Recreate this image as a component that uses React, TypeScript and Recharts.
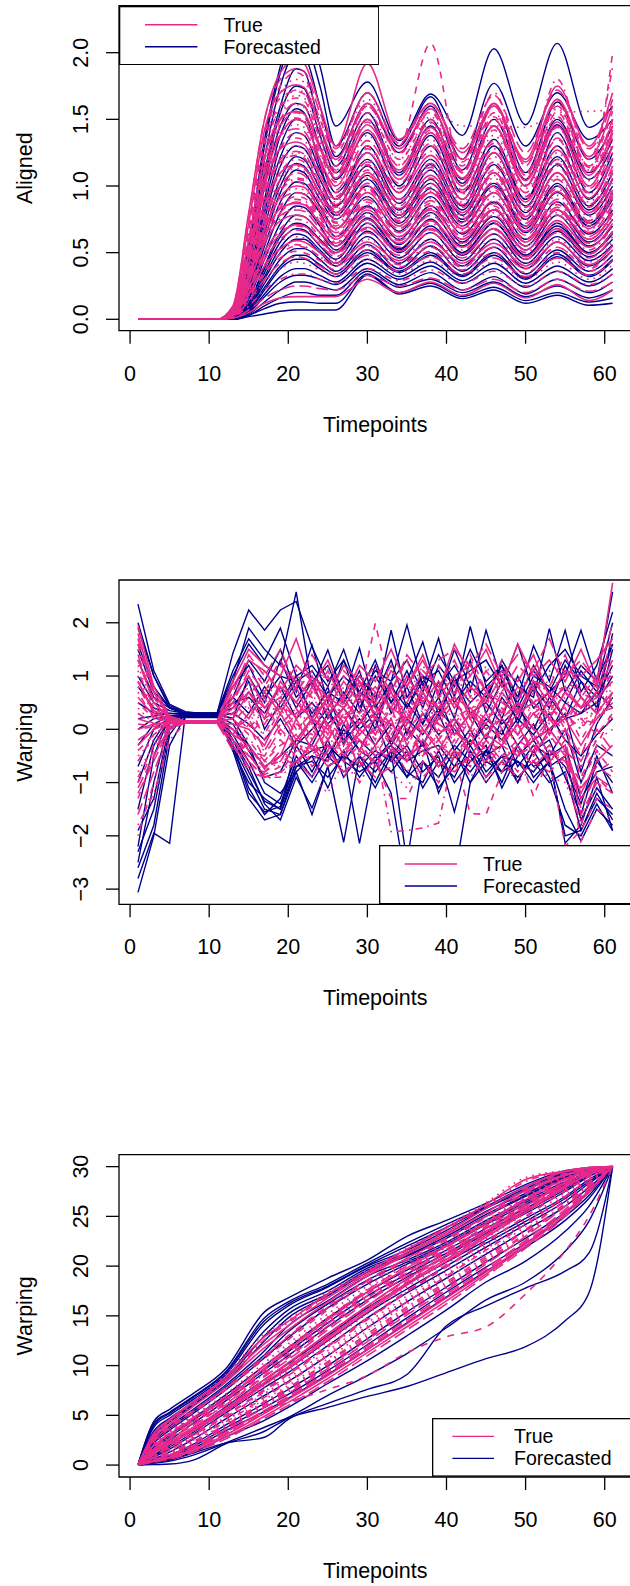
import React from 'react';
import { LineChart, Line, XAxis, YAxis, ReferenceArea, Legend } from 'recharts';

const PINK = '#E7298A';
const NAVY = '#00008B';
const FONT = '"Liberation Sans", Arial, Helvetica, sans-serif';
const FS = 21.5;
const FS_LEG = 19.5;
const LW_N = 1.4;
const LW_P = 1.6;

// ---------- tick labels ----------
const timeTicks = [0, 10, 20, 30, 40, 50, 60];
const alignedTicks = [0, 0.5, 1, 1.5, 2];
const warpTicks = [-3, -2, -1, 0, 1, 2];
const cumTicks = [0, 5, 10, 15, 20, 25, 30];

// ---------- panel 1 : Aligned ----------
const alignedTime = [1, 11, 13, 15, 17, 19, 21, 22, 24, 26, 30, 34, 38, 42, 46, 50, 54, 58, 61];
const alignedForecast = [
  [0,0,0.05,0.55,1.35,1.9,2.25,2.25,1.9,1.45,1.78,1.34,1.69,1.38,2.03,1.46,2.07,1.44,1.6],
  [0,0,0.05,0.5,1.3,1.85,2.12,2.1,1.75,1.3,1.7,1.3,1.67,1.2,1.77,1.3,1.7,1.35,1.5],
  [0,0,0.04,0.45,1.2,1.75,2.0,1.98,1.6,1.22,1.62,1.25,1.6,1.12,1.62,1.1,1.63,1.2,1.45],
  [0,0,0.03,0.4,1.1,1.6,1.88,1.86,1.45,1.15,1.55,1.1,1.5,1.05,1.5,1.05,1.5,1.1,1.35],
  [0,0,0.02,0.35,1.0,1.45,1.62,1.6,1.3,1.05,1.4,1.0,1.38,0.95,1.35,0.9,1.4,0.95,1.25],
  [0,0,0.02,0.3,0.85,1.3,1.5,1.48,1.2,0.95,1.25,0.9,1.2,0.85,1.25,0.85,1.22,0.85,1.1],
  [0,0,0.02,0.25,0.75,1.15,1.3,1.28,1.05,0.85,1.15,0.82,1.12,0.78,1.1,0.75,1.1,0.78,1.0],
  [0,0,0.01,0.2,0.6,0.95,1.12,1.1,0.9,0.75,1.0,0.72,0.98,0.7,0.95,0.65,0.95,0.7,0.9],
  [0,0,0.01,0.15,0.5,0.8,0.95,0.94,0.8,0.62,0.85,0.6,0.85,0.58,0.82,0.55,0.82,0.58,0.75],
  [0,0,0.01,0.1,0.35,0.58,0.68,0.67,0.55,0.45,0.72,0.5,0.7,0.48,0.68,0.45,0.66,0.47,0.6],
  [0,0,0.01,0.08,0.3,0.5,0.6,0.6,0.5,0.4,0.62,0.42,0.6,0.4,0.6,0.38,0.58,0.4,0.52],
  [0,0,0,0.06,0.22,0.38,0.45,0.45,0.38,0.32,0.5,0.35,0.48,0.32,0.48,0.3,0.47,0.32,0.44],
  [0,0,0,0.05,0.17,0.28,0.33,0.33,0.3,0.26,0.42,0.3,0.4,0.27,0.38,0.24,0.36,0.25,0.34],
  [0,0,0,0.04,0.13,0.22,0.28,0.28,0.25,0.22,0.38,0.26,0.35,0.22,0.32,0.19,0.3,0.2,0.28],
  [0,0,0,0.03,0.08,0.12,0.13,0.13,0.12,0.12,0.34,0.2,0.27,0.17,0.24,0.14,0.2,0.13,0.16],
  [0,0,0,0.02,0.04,0.06,0.07,0.07,0.07,0.07,0.33,0.19,0.25,0.155,0.22,0.12,0.18,0.105,0.12],
  [0,0,0,0.03,0.1,0.16,0.2,0.2,0.18,0.18,0.36,0.24,0.3,0.2,0.28,0.17,0.25,0.16,0.22],
  [0,0,0.01,0.12,0.4,0.65,0.78,0.77,0.65,0.52,0.75,0.52,0.75,0.5,0.72,0.48,0.72,0.5,0.66],
  [0,0,0.02,0.2,0.7,1.05,1.22,1.2,0.98,0.8,1.08,0.78,1.05,0.75,1.02,0.7,1.02,0.72,0.95],
  [0,0,0.02,0.3,0.9,1.38,1.58,1.55,1.15,0.9,1.3,0.95,1.3,0.9,1.3,0.9,1.3,0.9,1.2],
  [0,0,0.01,0.15,0.45,0.72,0.85,0.84,0.7,0.55,0.8,0.56,0.8,0.55,0.77,0.52,0.78,0.55,0.7],
  [0,0,0.01,0.08,0.27,0.45,0.53,0.53,0.45,0.36,0.56,0.38,0.55,0.36,0.54,0.34,0.52,0.36,0.48],
  [0,0,0.03,0.38,1.05,1.55,1.75,1.73,1.38,1.1,1.5,1.08,1.45,1.02,1.45,1.0,1.46,1.05,1.3],
  [0,0,0.02,0.28,0.8,1.22,1.4,1.38,1.12,0.9,1.2,0.87,1.16,0.82,1.16,0.8,1.16,0.82,1.05],
  [0,0,0.01,0.18,0.55,0.88,1.03,1.02,0.85,0.68,0.92,0.66,0.92,0.64,0.88,0.6,0.88,0.64,0.82],
  [0,0,0.01,0.12,0.38,0.62,0.72,0.71,0.6,0.5,0.76,0.53,0.74,0.5,0.72,0.48,0.7,0.5,0.64],
  [0,0,0,0.07,0.24,0.4,0.48,0.48,0.41,0.34,0.52,0.36,0.5,0.33,0.5,0.31,0.49,0.33,0.45],
  [0,0,0,0.05,0.19,0.32,0.38,0.38,0.33,0.28,0.45,0.32,0.43,0.29,0.42,0.27,0.4,0.28,0.38],
  [0,0,0.02,0.22,0.65,1.0,1.17,1.15,0.94,0.78,1.05,0.76,1.02,0.73,1.0,0.68,1.0,0.7,0.92],
  [0,0,0.01,0.1,0.32,0.54,0.64,0.63,0.52,0.42,0.66,0.46,0.65,0.44,0.64,0.42,0.62,0.44,0.56],
];
const alignedTrue = [
  [0,0,0.1,0.8,1.5,1.85,1.95,1.92,1.6,1.3,1.92,1.35,1.62,1.25,1.6,1.2,1.75,1.3,1.7],
  [0,0,0.08,0.7,1.4,1.75,1.85,1.82,1.5,1.25,1.7,1.3,2.07,1.1,1.55,1.05,1.65,1.1,2.0],
  [0,0,0.08,0.65,1.3,1.7,1.8,1.78,1.5,1.3,1.65,1.35,1.58,1.45,1.45,1.44,1.55,1.56,1.57],
  [0,0,0.07,0.6,1.25,1.6,1.72,1.7,1.4,1.15,1.6,1.25,1.55,1.15,1.7,1.15,1.8,1.2,1.9],
  [0,0,0.07,0.55,1.15,1.5,1.62,1.6,1.3,1.1,1.5,1.15,1.48,1.1,1.6,1.08,1.6,1.15,1.5],
  [0,0,0.06,0.5,1.05,1.38,1.5,1.48,1.2,1.0,1.42,1.05,1.4,1.0,1.45,1.0,1.45,1.0,1.4],
  [0,0,0.06,0.45,0.98,1.28,1.4,1.38,1.15,0.95,1.3,0.98,1.3,0.95,1.32,0.92,1.35,0.95,1.3],
  [0,0,0.05,0.42,0.9,1.2,1.3,1.28,1.05,0.88,1.2,0.9,1.2,0.88,1.22,0.85,1.25,0.88,1.2],
  [0,0,0.05,0.38,0.82,1.1,1.2,1.18,0.98,0.82,1.12,0.85,1.12,0.8,1.12,0.78,1.15,0.8,1.1],
  [0,0,0.05,0.35,0.75,1.0,1.1,1.08,0.9,0.75,1.02,0.78,1.02,0.75,1.03,0.72,1.05,0.74,1.0],
  [0,0,0.04,0.32,0.68,0.92,1.0,0.99,0.82,0.68,0.95,0.7,0.95,0.68,0.95,0.66,0.96,0.68,0.92],
  [0,0,0.04,0.3,0.62,0.84,0.92,0.91,0.76,0.63,0.88,0.65,0.87,0.62,0.87,0.6,0.88,0.62,0.85],
  [0,0,0.04,0.27,0.56,0.76,0.84,0.83,0.7,0.58,0.8,0.6,0.8,0.57,0.8,0.55,0.8,0.57,0.78],
  [0,0,0.03,0.24,0.5,0.68,0.75,0.74,0.62,0.52,0.72,0.54,0.72,0.52,0.72,0.5,0.72,0.52,0.7],
  [0,0,0.03,0.22,0.45,0.6,0.67,0.66,0.56,0.47,0.65,0.48,0.65,0.46,0.64,0.45,0.65,0.46,0.62],
  [0,0,0.03,0.19,0.4,0.53,0.59,0.58,0.5,0.42,0.58,0.44,0.58,0.42,0.57,0.4,0.58,0.41,0.55],
  [0,0,0.02,0.16,0.34,0.46,0.51,0.5,0.44,0.37,0.52,0.39,0.51,0.37,0.5,0.35,0.5,0.36,0.48],
  [0,0,0.02,0.13,0.28,0.38,0.43,0.42,0.37,0.32,0.45,0.34,0.44,0.32,0.43,0.3,0.43,0.3,0.41],
  [0,0,0.02,0.1,0.22,0.3,0.34,0.34,0.3,0.27,0.38,0.29,0.37,0.27,0.36,0.25,0.36,0.26,0.34],
  [0,0,0.01,0.07,0.16,0.22,0.25,0.25,0.23,0.22,0.33,0.25,0.31,0.22,0.3,0.2,0.3,0.21,0.28],
  [0,0,0.01,0.05,0.12,0.16,0.17,0.17,0.17,0.17,0.3,0.2,0.28,0.18,0.27,0.16,0.26,0.14,0.22],
  [0,0,0.06,0.5,1.1,1.45,1.55,1.52,1.25,1.08,1.48,1.1,1.42,1.05,1.5,1.05,1.52,1.1,1.45],
  [0,0,0.05,0.4,0.86,1.15,1.25,1.23,1.0,0.85,1.15,0.87,1.15,0.84,1.18,0.82,1.2,0.85,1.15],
  [0,0,0.04,0.34,0.72,0.96,1.05,1.04,0.86,0.72,0.98,0.74,0.98,0.72,0.99,0.7,1.0,0.72,0.96],
  [0,0,0.04,0.28,0.6,0.8,0.88,0.87,0.73,0.6,0.84,0.62,0.83,0.6,0.83,0.58,0.84,0.6,0.8],
  [0,0,0.03,0.23,0.48,0.64,0.71,0.7,0.59,0.5,0.69,0.51,0.68,0.49,0.68,0.47,0.68,0.49,0.66],
  [0,0,0.02,0.17,0.36,0.49,0.55,0.54,0.47,0.4,0.55,0.41,0.54,0.39,0.54,0.38,0.54,0.38,0.52],
  [0,0,0.07,0.58,1.2,1.55,1.68,1.66,1.35,1.12,1.55,1.2,1.52,1.12,1.55,1.1,1.58,1.15,1.5],
  [0,0,0.05,0.36,0.78,1.05,1.15,1.13,0.94,0.78,1.08,0.8,1.06,0.78,1.08,0.75,1.1,0.78,1.05],
  [0,0,0.02,0.14,0.3,0.42,0.47,0.46,0.4,0.34,0.48,0.36,0.47,0.34,0.46,0.32,0.46,0.33,0.44],
  [0,0,0.09,0.72,1.42,1.7,1.76,1.74,1.45,1.2,1.62,1.28,1.58,1.2,1.62,1.18,1.65,1.22,1.6],
  [0,0,0.08,0.66,1.33,1.6,1.66,1.64,1.36,1.12,1.55,1.2,1.5,1.12,1.52,1.1,1.55,1.14,1.5],
  [0,0,0.07,0.55,1.12,1.4,1.46,1.44,1.2,1.0,1.38,1.05,1.35,1.0,1.38,0.98,1.4,1.0,1.35],
  [0,0,0.06,0.5,1.02,1.3,1.36,1.34,1.1,0.92,1.28,0.98,1.26,0.94,1.28,0.9,1.3,0.94,1.25],
  [0,0,0.06,0.46,0.95,1.2,1.26,1.24,1.02,0.86,1.18,0.9,1.17,0.86,1.18,0.84,1.2,0.86,1.15],
  [0,0,0.05,0.42,0.86,1.1,1.16,1.14,0.95,0.8,1.1,0.83,1.08,0.8,1.1,0.77,1.1,0.8,1.06],
  [0,0,0.05,0.38,0.79,1.0,1.06,1.05,0.87,0.73,1.0,0.76,0.99,0.73,1.0,0.7,1.0,0.73,0.97],
  [0,0,0.04,0.35,0.72,0.93,0.98,0.97,0.8,0.67,0.92,0.7,0.91,0.67,0.92,0.65,0.93,0.67,0.9],
  [0,0,0.04,0.32,0.67,0.86,0.9,0.89,0.74,0.62,0.86,0.65,0.85,0.62,0.85,0.6,0.86,0.62,0.82],
  [0,0,0.04,0.29,0.6,0.78,0.82,0.81,0.68,0.57,0.78,0.59,0.78,0.57,0.78,0.55,0.78,0.57,0.75],
  [0,0,0.03,0.27,0.57,0.74,0.78,0.77,0.65,0.55,0.75,0.57,0.74,0.54,0.74,0.52,0.74,0.54,0.72],
  [0,0,0.03,0.24,0.51,0.66,0.7,0.69,0.58,0.49,0.68,0.51,0.67,0.49,0.67,0.47,0.67,0.49,0.65],
  [0,0,0.03,0.21,0.45,0.59,0.62,0.61,0.52,0.44,0.6,0.46,0.6,0.44,0.6,0.42,0.6,0.43,0.58],
  [0,0,0.02,0.19,0.41,0.53,0.56,0.55,0.47,0.4,0.55,0.42,0.55,0.4,0.54,0.38,0.54,0.39,0.52],
  [0,0,0.1,0.78,1.5,1.8,1.88,1.86,1.55,1.28,1.7,1.32,1.62,1.28,1.68,1.25,1.72,1.28,1.65],
  [0,0,0.08,0.6,1.22,1.5,1.56,1.54,1.28,1.06,1.46,1.12,1.44,1.06,1.45,1.04,1.48,1.08,1.42],
  [0,0,0.09,0.7,1.38,1.66,1.71,1.69,1.42,1.18,1.6,1.24,1.56,1.18,1.6,1.16,1.62,1.2,1.56],
  [0,0,0.08,0.63,1.3,1.56,1.61,1.59,1.33,1.1,1.5,1.16,1.47,1.1,1.5,1.08,1.52,1.12,1.47],
  [0,0,0.07,0.58,1.2,1.46,1.51,1.49,1.24,1.03,1.42,1.08,1.4,1.03,1.42,1.01,1.44,1.04,1.38],
  [0,0,0.07,0.53,1.1,1.38,1.43,1.41,1.17,0.97,1.34,1.02,1.32,0.97,1.34,0.95,1.36,0.98,1.3],
  [0,0,0.06,0.48,1.0,1.28,1.33,1.31,1.08,0.9,1.25,0.95,1.23,0.9,1.25,0.88,1.27,0.91,1.21],
  [0,0,0.06,0.44,0.92,1.18,1.23,1.21,1.0,0.84,1.16,0.88,1.14,0.84,1.15,0.81,1.17,0.84,1.12],
  [0,0,0.05,0.4,0.84,1.08,1.13,1.11,0.92,0.77,1.06,0.8,1.05,0.77,1.06,0.74,1.07,0.77,1.03],
  [0,0,0.05,0.37,0.76,0.98,1.03,1.01,0.84,0.7,0.97,0.73,0.96,0.7,0.97,0.68,0.98,0.7,0.94],
  [0,0,0.04,0.34,0.7,0.9,0.95,0.94,0.78,0.65,0.9,0.68,0.89,0.65,0.89,0.63,0.9,0.65,0.87],
  [0,0,0.04,0.31,0.64,0.83,0.87,0.86,0.72,0.6,0.82,0.62,0.82,0.6,0.82,0.58,0.82,0.6,0.79],
];

// ---------- panel 2 : Warping (derivative) ----------
const warpTime = [1,3,5,7,9,11,13,15,17,19,21,23,25,27,29,31,33,35,37,39,41,43,45,47,49,51,53,55,57,59,61];
const warpForecast = [
  [2.35,1.1,0.47,0.33,0.3,0.3,1.43,2.24,1.86,2.24,2.4,1.55,0.9,1.3,0.7,0.5,1.86,0.6,1.0,0.8,1.2,0.7,1.86,0.9,0.5,1.2,0.7,1.0,1.86,0.9,2.58],
  [2.0,1.0,0.45,0.3,0.3,0.3,0.9,1.9,1.5,1.2,2.58,0.8,1.49,0.6,1.52,0.4,0.9,1.96,0.8,1.71,0.6,1.93,0.8,1.1,0.6,1.57,0.9,1.86,0.7,1.2,2.2],
  [1.6,0.8,0.4,0.28,0.28,0.28,0.6,1.3,0.9,1.5,0.7,1.58,0.5,1.3,0.4,1.0,0.5,0.9,1.64,0.6,1.5,0.8,0.5,1.3,0.8,0.6,1.89,0.7,1.2,0.9,1.6],
  [-3.06,-2.0,-0.3,0.25,0.25,0.25,-0.3,-0.9,-1.5,-1.6,-0.8,-1.6,-0.7,-0.5,-2.14,-0.6,-0.3,-0.9,-0.2,-1.2,-0.5,-0.8,-0.4,-1.0,-0.3,-0.7,-0.5,-2.14,-1.8,-0.9,-1.9],
  [-2.8,-1.95,-2.14,0.3,0.3,0.3,-0.2,-0.7,-1.4,-1.7,-0.9,-1.48,-0.7,-2.12,-0.5,-0.8,-0.4,-2.5,-0.6,-0.9,-0.4,-1.0,-0.6,-0.8,-0.3,-0.9,-0.6,-2.0,-1.9,-1.2,-1.7],
  [-2.5,-1.0,0.2,0.3,0.3,0.3,-0.4,-1.0,-1.3,-1.5,-0.7,-0.6,-0.9,-0.5,-0.7,-0.4,-0.6,-0.3,-0.8,-0.5,-1.55,-0.4,-0.9,-0.5,-0.6,-0.8,-0.4,-0.7,-1.4,-0.5,-1.2],
  [-2.2,-0.5,0.25,0.25,0.25,0.25,-0.1,-0.6,-1.2,-1.4,-0.6,-0.4,-0.3,-0.6,-0.2,-0.5,-0.3,-0.6,-0.4,-0.3,-0.7,-0.2,-0.5,-0.3,-1.0,-0.4,-0.2,-0.9,-1.6,-0.6,-1.0],
  [-1.0,-0.2,0.25,0.28,0.28,0.28,0.2,-0.3,-1.0,-1.2,-0.8,-0.5,-0.6,0.1,-0.4,-0.6,-0.2,-0.5,-0.3,-0.7,-0.3,-0.6,-0.4,0.0,-0.7,-0.3,-0.5,-0.3,-1.3,-0.8,-0.7],
  [0.5,0.3,0.3,0.3,0.3,0.3,0.5,0.6,0.3,0.8,0.2,0.5,0.1,0.4,0.0,0.3,-0.2,0.5,0.1,0.6,-0.1,0.3,0.5,0.1,0.4,0.0,0.6,0.2,0.3,0.5,1.0],
  [1.0,0.5,0.35,0.3,0.3,0.3,0.8,1.2,0.6,1.0,0.4,0.9,0.2,0.7,0.3,1.2,0.3,0.8,0.1,0.9,0.2,1.3,0.3,0.9,0.1,0.8,0.4,1.2,0.6,0.3,1.5],
  [-0.7,0.0,0.22,0.22,0.22,0.22,0.0,-0.3,-0.7,-0.5,-0.2,-0.3,0.3,-0.1,0.2,-0.3,0.1,-0.2,0.3,-0.1,0.2,-0.3,0.1,-0.2,0.2,-0.1,0.3,-0.2,-0.5,-0.1,0.2],
  [0.0,0.2,0.25,0.25,0.25,0.25,0.3,0.1,-0.2,0.2,-0.3,0.0,0.4,-0.2,0.1,0.5,-0.3,0.2,-0.1,0.4,0.0,-0.3,0.2,-0.1,0.5,-0.2,0.0,0.3,-0.8,0.1,0.6],
  [1.9,1.0,0.4,0.3,0.3,0.3,1.0,1.6,1.2,1.0,0.9,1.1,0.6,1.0,0.7,1.3,0.5,1.1,0.4,1.2,0.8,1.5,0.9,1.2,0.6,1.1,0.7,1.3,0.9,0.4,1.8],
  [-1.5,-0.3,0.2,0.25,0.25,0.25,-0.2,-0.8,-1.35,-1.5,-0.3,-0.8,-0.2,-0.9,-0.5,-1.0,-0.4,-0.8,-1.0,-0.4,-1.0,-0.6,-0.3,-1.1,-0.5,-0.2,-0.7,-0.5,-1.7,-1.1,-1.5],
  [0.8,0.4,0.3,0.28,0.28,0.28,0.4,0.9,0.0,0.5,1.0,0.2,0.8,-0.3,0.6,0.0,0.9,-0.1,0.7,0.2,1.0,0.3,-0.2,0.6,0.2,0.9,-0.1,0.5,0.3,0.7,0.4],
  [-2.6,-1.8,-0.1,0.3,0.3,0.3,-0.3,-1.1,-1.6,-1.3,-0.5,-0.9,-0.3,-0.6,-0.8,-0.6,-1.2,-3.0,-3.0,-3.0,-2.8,-1.0,-0.4,-0.8,-0.6,-1.0,-0.6,-1.5,-2.1,-1.5,-1.8],
  [-1.9,-1.3,0.1,0.3,0.3,0.3,-0.3,-1.2,-1.55,-1.45,-0.6,-1.0,-0.5,-0.8,-0.6,-1.1,-0.5,-0.9,-0.6,-1.1,-0.7,-0.5,-1.0,-0.6,-0.9,-0.6,-1.0,-0.8,-1.9,-1.3,-1.6],
  [1.3,0.6,0.4,0.3,0.3,0.3,1.1,1.7,1.3,1.9,1.0,1.2,0.8,1.5,0.6,1.1,0.9,1.3,0.7,1.4,0.9,1.1,1.3,0.8,1.6,0.7,1.2,1.5,1.0,0.8,2.0],
  [-0.3,0.1,0.25,0.25,0.25,0.25,0.1,-0.4,-0.9,-0.8,-0.2,0.2,-0.5,0.0,-0.4,0.2,-0.6,0.0,-0.3,0.3,-0.4,0.0,-0.6,0.2,-0.3,0.1,-0.5,0.0,-1.0,-0.3,-0.5],
  [0.2,0.25,0.3,0.28,0.28,0.28,0.6,0.3,0.8,0.4,0.9,0.3,0.7,0.5,1.1,0.2,0.8,0.4,1.0,0.3,0.9,0.5,0.8,0.2,1.0,0.4,0.7,0.2,0.9,0.6,1.2],
  [-2.3,-1.5,0.0,0.28,0.28,0.28,-0.4,-1.3,-1.7,-1.6,-0.7,-0.5,-1.1,-0.4,-0.9,-0.5,-0.8,-0.4,-1.1,-0.6,-0.9,-0.3,-0.8,-0.5,-1.0,-0.4,-0.9,-1.8,-2.0,-1.4,-1.9],
  [1.5,0.7,0.42,0.3,0.3,0.3,0.2,1.0,0.5,1.3,0.6,0.9,1.2,0.5,1.0,0.6,1.3,0.4,0.9,1.1,0.5,0.9,0.6,1.2,0.4,1.0,0.8,0.5,1.1,0.7,1.6],
];
const warpTrue = [
  [1.95,0.8,0.25,0.15,0.15,0.15,0.9,1.5,1.2,1.0,1.7,0.8,1.3,0.6,1.2,0.9,1.5,0.8,1.3,0.7,1.6,1.0,1.5,0.8,1.6,1.0,1.3,0.9,1.5,0.8,2.75],
  [1.6,0.6,0.2,0.15,0.15,0.15,0.6,1.2,0.8,1.3,0.7,1.1,0.5,1.0,0.6,1.99,0.7,1.3,0.5,1.2,0.6,1.4,0.7,1.3,0.5,1.2,0.6,1.1,0.9,0.6,1.8],
  [1.2,0.4,0.2,0.15,0.15,0.15,0.3,0.9,0.4,0.7,0.3,0.9,0.2,0.8,0.4,0.6,0.2,0.9,0.3,0.7,0.1,0.8,0.3,0.9,0.2,0.7,0.4,0.8,0.3,0.5,1.2],
  [0.7,0.2,0.15,0.12,0.12,0.12,0.1,0.5,-0.2,0.4,-0.1,0.5,-0.2,0.3,0.0,0.5,-0.3,0.4,-0.1,0.3,0.1,0.5,-0.2,0.4,0.0,0.3,-0.1,0.5,0.2,0.1,0.7],
  [0.2,0.1,0.12,0.12,0.12,0.12,0.0,0.2,-0.4,0.1,0.4,-0.2,0.3,-0.3,0.2,-0.1,0.4,-0.3,0.3,-0.2,0.2,-0.1,0.3,-0.3,0.4,-0.2,0.2,0.0,-0.5,0.3,0.4],
  [-0.3,0.0,0.12,0.12,0.12,0.12,-0.1,-0.3,-0.7,-0.5,0.2,-0.4,0.1,-0.5,0.0,-0.3,0.2,-0.6,0.0,-0.4,0.1,-0.5,-0.1,-0.3,0.1,-0.5,0.0,-0.4,-1.2,-0.6,-0.3],
  [-1.0,-0.4,0.1,0.12,0.12,0.12,-0.2,-0.6,-0.9,-0.8,-0.4,-0.6,-0.3,-0.9,-0.4,-0.6,-1.3,-1.3,-0.6,-1.0,-0.5,-1.58,-1.6,-0.8,-0.4,-1.26,-0.5,-2.2,-1.9,-1.3,-1.5],
  [-1.5,-1.39,0.0,0.12,0.12,0.12,-0.2,-0.7,-0.95,-0.83,-0.5,-0.9,-1.2,-0.6,-1.0,-0.5,-0.8,-1.1,-0.6,-0.9,-0.7,-0.5,-1.0,-0.6,-1.0,-0.7,-0.9,-1.0,-1.7,-1.1,-1.0],
  [-2.0,-1.0,0.05,0.12,0.12,0.12,0.0,-0.5,-0.8,-0.6,-0.2,-0.7,-0.4,-0.2,-0.6,-0.3,-1.92,-1.9,-1.85,-1.76,-0.4,-0.6,-0.3,-0.7,-0.4,-0.6,-0.3,-0.8,-1.8,-0.9,-1.2],
  [1.7,0.7,0.2,0.15,0.15,0.15,0.7,1.4,1.0,1.5,0.8,1.4,0.9,1.1,0.8,1.2,0.7,1.4,1.0,1.3,1.5,1.2,1.6,1.0,1.4,1.1,1.7,1.0,1.3,0.9,2.0],
  [0.9,0.3,0.18,0.15,0.15,0.15,0.4,0.7,0.2,0.9,0.5,0.2,0.6,0.1,0.7,0.3,0.8,0.2,0.6,0.4,0.9,0.2,0.7,0.3,0.8,0.5,0.2,0.7,0.4,0.6,0.9],
  [-0.6,-0.1,0.12,0.12,0.12,0.12,-0.1,-0.2,-0.6,-0.3,-0.1,0.1,-0.4,0.2,-0.3,0.0,-0.4,0.1,-0.5,0.0,-0.3,0.2,-0.4,0.0,-0.2,0.1,-0.5,0.0,-0.9,-0.3,0.3],
  [0.4,0.1,0.15,0.12,0.12,0.12,0.2,0.4,0.1,0.6,0.0,0.3,0.5,0.0,0.3,-0.1,0.5,0.1,0.4,-0.2,0.3,0.6,0.0,0.4,0.2,0.6,0.1,0.3,0.0,0.8,1.1],
  [-1.8,-1.2,-0.2,0.12,0.12,0.12,-0.3,-0.8,-0.9,-0.9,-0.6,-0.3,-0.7,-0.4,-1.0,-0.5,-0.3,-0.8,-0.4,-0.7,-0.3,-0.9,-0.5,-0.4,-0.8,-0.3,-0.6,-0.4,-2.1,-1.5,-1.7],
  [1.4,0.5,0.2,0.15,0.15,0.15,0.5,1.1,0.7,1.2,0.9,0.6,1.1,0.5,1.0,0.7,1.2,0.5,1.1,0.8,1.3,0.6,1.1,0.7,1.2,0.9,0.8,1.4,0.6,1.0,1.4],
  [0.0,0.1,0.12,0.12,0.12,0.12,0.1,0.0,-0.3,0.3,-0.2,0.2,0.0,0.4,-0.1,0.2,0.1,-0.2,0.2,0.1,-0.1,0.3,0.0,0.2,-0.1,0.3,0.0,0.2,-0.3,0.2,0.5],
  [-1.3,-0.5,0.1,0.12,0.12,0.12,-0.2,-0.5,-0.85,-0.7,-0.3,-0.5,-0.2,-0.6,-0.3,-0.7,-0.2,-0.5,-0.3,-0.6,-0.2,-0.4,-0.6,-0.2,-0.5,-0.3,-0.6,-0.2,-1.5,-0.8,-0.6],
  [1.0,0.35,0.18,0.15,0.15,0.15,0.3,0.9,0.5,0.3,1.1,0.4,0.8,0.2,0.9,0.4,0.7,0.3,1.0,0.5,0.8,0.3,0.9,0.5,0.7,0.3,1.0,0.4,0.8,0.6,1.6],
  [0.5,0.2,0.15,0.15,0.15,0.15,0.3,0.6,0.1,0.5,0.2,0.7,0.0,0.5,0.3,0.6,0.0,0.4,0.6,0.1,0.5,0.2,0.6,0.0,0.5,0.3,0.5,0.1,0.6,0.3,0.8],
  [-0.2,0.0,0.12,0.12,0.12,0.12,0.0,-0.4,-0.5,0.0,-0.3,0.2,-0.2,0.3,-0.4,0.1,-0.2,0.2,-0.3,0.2,0.0,-0.3,0.3,-0.2,0.1,-0.4,0.2,-0.2,-0.6,0.0,-0.4],
  [1.3,0.5,0.2,0.15,0.15,0.15,0.6,1.0,0.4,0.8,0.5,1.0,0.4,0.9,0.5,0.8,0.4,1.0,0.5,0.9,0.4,0.8,0.5,1.0,0.3,0.9,0.5,0.8,0.4,0.7,1.3],
  [-0.9,-0.3,0.1,0.12,0.12,0.12,-0.1,-0.5,-0.7,-0.6,-0.1,-0.5,0.0,-0.4,-0.1,-0.5,0.0,-0.4,-0.2,-0.5,0.0,-0.4,-0.1,-0.5,-0.2,-0.4,-0.1,-0.5,-1.0,-0.4,-0.8],
  [0.3,0.1,0.15,0.12,0.12,0.12,0.4,0.8,0.3,0.2,0.6,0.0,0.5,0.2,0.6,0.1,0.3,0.7,0.0,0.5,0.3,0.0,0.6,0.2,0.5,0.0,0.4,0.6,0.1,0.4,0.9],
  [0.8,0.3,0.18,0.15,0.15,0.15,0.0,0.3,0.6,-0.1,0.3,0.4,-0.1,0.6,0.2,-0.2,0.6,0.0,0.3,0.5,-0.1,0.4,0.2,0.6,-0.1,0.4,0.3,-0.1,0.5,0.2,0.6],
  [-1.6,-0.8,0.0,0.12,0.12,0.12,-0.3,-0.7,-0.8,-0.5,-0.7,-0.2,-0.6,-0.1,-0.7,-0.3,-0.6,0.0,-0.5,-0.2,-0.6,-0.1,-0.7,-0.3,-0.5,-0.1,-0.6,-0.3,-1.6,-1.0,-1.2],
  [1.8,0.7,0.22,0.15,0.15,0.15,0.8,1.3,1.1,0.7,1.2,0.9,0.6,1.2,0.9,0.5,1.1,0.8,1.4,0.6,1.0,1.2,0.7,1.1,0.9,1.4,0.6,1.1,1.0,1.3,1.7],
  [0.1,0.05,0.12,0.12,0.12,0.12,0.2,-0.1,0.2,0.4,0.1,-0.1,0.5,0.1,-0.2,0.4,0.1,0.3,-0.1,0.3,0.5,0.0,0.2,0.4,-0.1,0.2,0.5,0.0,0.2,-0.1,0.3],
  [-0.5,-0.2,0.1,0.12,0.12,0.12,0.1,-0.2,-0.4,-0.2,0.1,-0.1,-0.3,0.0,-0.1,-0.4,0.0,-0.1,0.1,-0.4,-0.1,0.0,-0.3,0.1,-0.3,0.0,-0.2,-0.1,-0.4,-0.2,0.0],
  [1.1,0.4,0.2,0.15,0.15,0.15,0.5,0.7,0.9,0.5,0.9,0.6,1.0,0.4,0.7,1.0,0.6,0.7,0.9,0.3,0.7,1.0,0.4,0.8,0.6,1.1,0.3,0.9,0.7,0.5,1.1],
  [-1.2,-0.6,0.05,0.12,0.12,0.12,-0.2,-0.6,-0.9,-0.8,-0.6,-0.9,-0.4,-0.8,-0.6,-0.9,-0.7,-0.4,-0.9,-0.6,-0.8,-0.5,-0.9,-0.6,-0.9,-0.6,-0.8,-0.5,-1.3,-0.9,-1.1],
  [0.6,0.25,0.15,0.15,0.15,0.15,0.5,0.2,0.7,0.3,0.8,0.1,0.6,0.4,0.9,0.2,0.7,0.1,0.8,0.4,0.6,0.0,0.7,0.5,0.3,0.8,0.2,0.7,0.4,0.9,1.0],
  [-0.4,-0.1,0.12,0.12,0.12,0.12,-0.3,0.1,-0.6,-0.2,-0.5,0.0,-0.4,-0.1,-0.5,0.1,-0.3,-0.5,0.0,-0.3,-0.5,-0.1,-0.4,0.0,-0.5,-0.2,0.0,-0.4,-0.7,-0.2,-0.5],
  [1.5,0.6,0.2,0.15,0.15,0.15,0.9,0.5,1.1,0.6,1.0,0.7,1.2,0.6,1.1,0.5,0.9,0.6,1.2,0.7,1.0,0.5,1.2,0.6,1.0,0.7,1.1,0.6,1.2,0.8,1.5],
  [0.0,0.05,0.12,0.12,0.12,0.12,-0.1,0.3,-0.1,0.5,0.0,0.3,-0.2,0.2,0.4,-0.1,0.2,0.5,0.0,0.4,-0.2,0.3,0.1,-0.2,0.3,0.5,-0.1,0.3,0.0,0.4,0.2],
  [-1.1,-0.5,0.05,0.12,0.12,0.12,-0.4,-0.3,-0.75,-0.4,-0.6,-0.3,-0.7,-0.5,-0.2,-0.7,-0.4,-0.6,-0.2,-0.7,-0.4,-0.7,-0.2,-0.6,-0.3,-0.7,-0.4,-0.6,-1.1,-0.7,-0.9],
  [0.9,0.35,0.18,0.15,0.15,0.15,0.2,0.7,0.4,0.6,0.2,0.8,0.3,0.6,0.1,0.7,0.4,0.2,0.7,0.2,0.6,0.4,0.1,0.7,0.3,0.5,0.7,0.2,0.6,0.3,0.7],
  [0.3,0.1,0.14,0.12,0.12,0.12,0.3,0.0,0.4,0.0,0.3,0.5,0.1,-0.1,0.4,0.2,-0.1,0.3,0.5,-0.1,0.2,0.4,-0.1,0.2,0.5,0.0,0.3,0.4,-0.2,0.3,0.6],
  [-0.8,-0.3,0.08,0.12,0.12,0.12,0.0,-0.4,-0.6,-0.7,-0.2,-0.6,-0.1,-0.5,-0.2,-0.4,-0.6,-0.1,-0.4,-0.1,-0.6,-0.2,-0.5,-0.7,-0.1,-0.5,-0.3,-0.7,-0.9,-0.5,-0.3],
];

// ---------- panel 3 : Warping (cumulative) ----------
const cumTime = [1, 3, 5, 8, 12, 17, 20, 25, 30, 35, 40, 45, 50, 55, 58, 61];
const cumForecast = [
  [0,4.4,5.6,7.2,9.6,15.4,16.8,18.8,20.6,23.0,24.6,26.3,28.2,29.6,29.9,30],
  [0,4.2,5.3,6.9,9.3,14.8,16.4,18.2,20.3,22.3,24.2,26.0,28.0,29.5,29.8,30],
  [0,3.8,5.0,6.6,9.0,14.2,16.0,17.9,20.0,21.6,23.6,25.8,27.6,29.3,29.7,30],
  [0,3.4,4.7,6.3,8.7,13.5,15.6,17.5,19.8,21.3,23.2,25.5,27.3,29.0,29.6,30],
  [0,3.0,4.3,6.0,8.3,12.5,14.8,17.0,19.4,21.0,22.8,25.0,27.0,28.8,29.5,30],
  [0,2.6,3.9,5.6,8.0,11.5,14.0,16.5,19.0,20.6,22.4,24.6,26.6,28.5,29.4,30],
  [0,2.2,3.5,5.2,7.5,10.8,12.8,15.8,18.2,20.2,22.0,24.2,26.2,28.2,29.3,30],
  [0,1.8,3.0,4.7,7.0,10.0,11.8,14.8,17.4,19.6,21.6,23.8,25.8,27.9,29.2,30],
  [0,1.4,2.5,4.2,6.4,9.3,11.0,13.9,16.6,18.9,21.0,23.3,25.3,27.5,29.0,30],
  [0,1.0,2.0,3.6,5.8,8.6,10.2,13.0,15.8,18.2,20.4,22.6,24.8,27.0,28.7,30],
  [0,0.8,1.6,3.1,5.2,7.8,9.3,12.0,14.8,17.3,19.6,21.9,24.2,26.5,28.3,30],
  [0,0.6,1.3,2.6,4.6,7.0,8.4,11.0,13.8,16.4,18.8,21.2,23.6,26.0,27.9,30],
  [0,0.5,1.0,2.1,4.0,6.2,7.6,10.0,12.7,15.4,17.9,20.4,22.8,25.4,27.4,30],
  [0,0.4,0.8,1.7,3.4,5.4,6.7,9.1,11.6,14.3,16.9,19.5,21.9,24.6,26.8,30],
  [0,0.3,0.6,1.3,2.8,4.5,5.8,8.2,10.5,13.0,15.6,18.4,20.5,23.5,26.0,30],
  [0,0.2,0.4,1.0,2.2,3.8,4.8,7.0,9.0,11.2,13.8,16.6,18.4,21.5,24.5,30],
  [0,0.2,0.5,1.2,2.2,2.8,4.6,6.2,7.6,9.1,14.0,16.0,17.8,19.5,21.3,30],
  [0,0.05,0.1,0.5,2.1,3.4,4.7,5.8,6.9,7.9,9.3,10.7,11.9,14.5,17.3,30],
  [0,4.0,5.2,6.8,9.2,14.5,16.2,18.0,20.1,22.0,23.9,25.9,27.8,29.4,29.8,30],
  [0,3.2,4.5,6.1,8.5,13.0,15.2,17.2,19.6,21.1,23.0,25.2,27.1,28.9,29.5,30],
  [0,2.4,3.7,5.4,7.8,11.1,13.4,16.2,18.6,20.4,22.2,24.4,26.4,28.3,29.3,30],
  [0,1.6,2.8,4.5,6.7,9.6,11.4,14.3,17.0,19.2,21.3,23.5,25.5,27.7,29.1,30],
  [0,0.9,1.8,3.3,5.5,8.2,9.7,12.5,15.3,17.7,20.0,22.3,24.5,26.8,28.5,30],
  [0,0.45,0.9,1.9,3.7,5.8,7.1,9.5,12.1,14.8,17.4,19.9,22.3,25.0,27.1,30],
];
const cumTrue = [
  [0,3.2,4.6,6.4,8.6,12.2,14.0,16.8,19.2,21.4,23.4,25.8,28.0,29.5,29.9,30],
  [0,2.6,3.9,5.5,7.7,11.0,13.0,16.0,18.6,20.8,22.8,25.0,27.8,29.3,29.8,30],
  [0,2.2,3.4,5.0,7.1,10.3,12.2,15.2,18.0,20.3,22.4,24.6,27.0,29.0,29.7,30],
  [0,1.9,3.0,4.5,6.5,9.6,11.4,14.4,17.2,19.6,21.9,24.2,26.6,28.7,29.6,30],
  [0,1.6,2.6,4.0,6.0,8.9,10.6,13.6,16.4,19.0,21.3,23.7,26.1,28.4,29.4,30],
  [0,1.3,2.2,3.6,5.5,8.3,9.9,12.8,15.6,18.3,20.7,23.1,25.6,28.0,29.2,30],
  [0,1.1,1.9,3.2,5.0,7.6,9.2,12.0,14.8,17.5,20.0,22.5,25.0,27.6,29.0,30],
  [0,0.9,1.6,2.8,4.5,7.0,8.5,11.2,14.0,16.7,19.2,21.8,24.4,27.1,28.7,30],
  [0,0.7,1.3,2.4,4.0,6.4,7.8,10.4,13.2,15.9,18.4,21.0,23.7,26.6,28.4,30],
  [0,0.55,1.05,2.0,3.5,5.8,7.2,9.7,12.4,15.1,17.6,20.2,23.0,26.0,28.0,30],
  [0,0.4,0.8,1.6,3.0,5.2,6.6,9.0,11.6,14.2,16.8,19.4,22.2,25.4,27.6,30],
  [0,0.5,1.0,1.9,3.3,5.4,6.3,7.6,9.0,11.3,12.9,13.9,17.2,21.5,25.0,30],
  [0,3.0,4.4,6.3,9.0,13.2,14.6,17.4,19.6,21.8,24.0,26.4,28.9,29.6,29.9,30],
  [0,1.0,1.8,3.0,4.8,7.4,9.0,11.8,14.6,17.4,20.2,23.0,25.8,28.2,29.3,30],
  [0,0.3,0.6,1.3,2.6,4.7,6.0,8.4,11.0,13.6,16.2,19.0,21.8,25.0,27.4,30],
  [0,1.5,2.4,3.8,5.7,8.6,10.3,13.2,16.0,18.7,21.1,23.5,26.0,28.3,29.4,30],
  [0,0.8,1.5,2.7,4.3,6.8,8.3,11.0,13.8,16.4,19.0,21.6,24.2,27.0,28.7,30],
  [0,1.2,2.0,3.4,5.2,7.9,9.5,12.4,15.2,17.9,20.4,22.8,25.3,27.8,29.1,30],
  [0,0.6,1.2,2.2,3.8,6.1,7.5,10.1,12.8,15.5,18.0,20.6,23.3,26.3,28.2,30],
  [0,2.0,3.2,4.8,6.8,10.0,11.8,14.8,17.6,20.0,22.1,24.4,26.8,28.8,29.6,30],
  [0,2.8,4.1,5.9,8.3,11.8,13.6,16.4,19.0,21.2,23.2,25.4,27.6,29.2,29.8,30],
  [0,2.4,3.7,5.3,7.5,10.7,12.6,15.6,18.3,20.6,22.6,24.9,27.3,29.1,29.7,30],
  [0,2.1,3.3,4.9,6.9,10.0,11.9,14.9,17.7,20.1,22.2,24.5,26.9,28.9,29.7,30],
  [0,1.75,2.8,4.25,6.25,9.2,11.0,14.0,16.8,19.3,21.6,23.9,26.3,28.5,29.5,30],
  [0,1.45,2.3,3.7,5.6,8.5,10.2,13.2,16.0,18.6,21.0,23.4,25.8,28.1,29.3,30],
  [0,1.2,2.1,3.45,5.35,8.1,9.7,12.6,15.4,18.1,20.5,22.9,25.4,27.9,29.2,30],
  [0,1.0,1.75,3.0,4.9,7.5,9.1,11.9,14.7,17.4,19.9,22.4,25.0,27.6,29.0,30],
  [0,0.85,1.55,2.75,4.4,6.9,8.4,11.1,13.9,16.6,19.1,21.7,24.4,27.1,28.8,30],
  [0,0.65,1.25,2.3,3.9,6.3,7.7,10.3,13.0,15.7,18.2,20.8,23.6,26.6,28.4,30],
  [0,0.5,0.95,1.8,3.25,5.5,6.9,9.4,12.0,14.6,17.2,19.8,22.6,25.7,27.8,30],
  [0,0.35,0.7,1.45,2.8,4.9,6.3,8.7,11.3,13.9,16.5,19.2,22.0,25.2,27.5,30],
  [0,1.65,2.7,4.1,6.1,9.0,10.8,13.8,16.6,19.2,21.5,23.8,26.2,28.4,29.5,30],
  [0,0.75,1.4,2.5,4.1,6.6,8.0,10.7,13.5,16.2,18.7,21.3,24.0,26.9,28.6,30],
  [0,2.9,4.3,6.1,8.5,12.6,14.3,17.0,19.3,21.6,23.7,26.0,28.5,29.5,29.9,30],
  [0,2.5,3.8,5.45,7.65,10.9,12.9,15.85,18.5,20.8,22.8,25.0,27.4,29.1,29.75,30],
  [0,1.95,3.1,4.65,6.6,9.75,11.6,14.6,17.4,19.8,22.0,24.3,26.7,28.75,29.6,30],
  [0,1.35,2.25,3.6,5.45,8.3,10.0,12.9,15.7,18.4,20.8,23.2,25.7,28.05,29.25,30],
  [0,0.95,1.7,2.9,4.65,7.2,8.75,11.5,14.3,17.0,19.5,22.1,24.7,27.4,28.9,30],
  [0,0.6,1.15,2.1,3.6,5.95,7.35,9.9,12.6,15.3,17.8,20.4,23.2,26.2,28.1,30],
  [0,0.45,0.85,1.7,3.1,5.3,6.75,9.2,11.8,14.4,17.0,19.6,22.4,25.5,27.7,30],
  [0,3.1,4.5,6.35,8.8,12.9,14.45,17.2,19.45,21.7,23.85,26.2,28.7,29.55,29.9,30],
  [0,1.8,2.9,4.35,6.4,9.4,11.2,14.2,17.0,19.4,21.7,24.0,26.45,28.6,29.55,30],
];

// ---------- layout ----------
const CHART_W = 640;
const PLOT_LEFT = 119;
const PLOT_RIGHT = 631.6;
const X_DOMAIN: [number, number] = [-1.4, 63.4];
const LTY = [undefined, '7 7', '1.7 5', '1.7 5 7 5', '12 5'];

type LegendSpec = { left: number; top: number; width: number; height: number; x1: number; x2: number; tx: number; y1: number; y2: number };
type PanelSpec = {
  top: number; height: number; plotTop: number; plotBottom: number;
  yDomain: [number, number]; yTicks: number[]; yFmt: (v: number) => string; yTitle: string;
  time: number[]; forecast: number[][]; truth: number[][]; curve: 'monotone' | 'linear';
  legend: LegendSpec;
};

const toRows = (time: number[], vals: number[]) => time.map((t, i) => ({ t, v: vals[i] }));

const LegendBox = ({ lg }: { lg: LegendSpec }) => (
  <svg width={lg.width} height={lg.height} style={{ display: 'block' }}>
    <rect x={0.65} y={0.65} width={lg.width - 1.3} height={lg.height - 1.3} fill="#fff" stroke="#000" strokeWidth={1.3} />
    <line x1={lg.x1} x2={lg.x2} y1={lg.y1} y2={lg.y1} stroke={PINK} strokeWidth={LW_N} />
    <line x1={lg.x1} x2={lg.x2} y1={lg.y2} y2={lg.y2} stroke={NAVY} strokeWidth={LW_N} />
    <text x={lg.tx} y={lg.y1 + 7} fontSize={FS_LEG} fontFamily={FONT} fill="#000">True</text>
    <text x={lg.tx} y={lg.y2 + 7} fontSize={FS_LEG} fontFamily={FONT} fill="#000">Forecasted</text>
  </svg>
);

const Panel = ({ s }: { s: PanelSpec }) => {
  const xTick = (p: any) => (
    <text x={p.x} y={s.plotBottom + 50} textAnchor="middle" fontSize={FS} fontFamily={FONT} fill="#000">
      {p.payload.value}
    </text>
  );
  const yTick = (p: any) => (
    <text x={88} y={p.y} transform={`rotate(-90 88 ${p.y})`} textAnchor="middle" fontSize={FS} fontFamily={FONT} fill="#000">
      {s.yFmt(p.payload.value)}
    </text>
  );
  const cy = (s.plotTop + s.plotBottom) / 2;
  return (
    <div style={{ position: 'absolute', left: 0, top: s.top, width: CHART_W, height: s.height }}>
      <LineChart width={CHART_W} height={s.height} margin={{ top: s.plotTop, right: CHART_W - PLOT_RIGHT, bottom: 0, left: 0 }}>
        <XAxis
          type="number" dataKey="t" domain={X_DOMAIN} allowDataOverflow ticks={timeTicks} interval={0}
          height={s.height - s.plotBottom} tickSize={13} axisLine={false}
          tickLine={{ stroke: '#000', strokeWidth: 1.3 }} tick={xTick}
          label={() => (
            <text x={(PLOT_LEFT + PLOT_RIGHT) / 2} y={s.plotBottom + 101} textAnchor="middle" fontSize={FS} fontFamily={FONT} fill="#000">Timepoints</text>
          )}
        />
        <YAxis
          type="number" domain={s.yDomain} allowDataOverflow ticks={s.yTicks} interval={0}
          width={PLOT_LEFT} tickSize={13} axisLine={false}
          tickLine={{ stroke: '#000', strokeWidth: 1.3 }} tick={yTick}
          label={() => (
            <text x={32.5} y={cy} transform={`rotate(-90 32.5 ${cy})`} textAnchor="middle" fontSize={FS} fontFamily={FONT} fill="#000">{s.yTitle}</text>
          )}
        />
        {s.forecast.map((vals, i) => (
          <Line key={'f' + i} data={toRows(s.time, vals)} dataKey="v" type={s.curve} stroke={NAVY} strokeWidth={LW_N}
            dot={false} activeDot={false} isAnimationActive={false} />
        ))}
        {s.truth.map((vals, i) => (
          <Line key={'p' + i} data={toRows(s.time, vals)} dataKey="v" type={s.curve} stroke={PINK} strokeWidth={LW_P}
            strokeDasharray={LTY[i % LTY.length]} dot={false} activeDot={false} isAnimationActive={false} />
        ))}
        <ReferenceArea x1={X_DOMAIN[0]} x2={X_DOMAIN[1]} y1={s.yDomain[0]} y2={s.yDomain[1]} fill="none" fillOpacity={0}
          stroke="#000" strokeWidth={1.3} ifOverflow="visible" />
        <Legend layout="vertical" align="center" verticalAlign="middle"
          wrapperStyle={{ left: s.legend.left, top: s.legend.top, width: s.legend.width, height: s.legend.height }}
          content={() => <LegendBox lg={s.legend} />} />
      </LineChart>
    </div>
  );
};

const one = (v: number) => v.toFixed(1);
const minus = (v: number) => (v < 0 ? '\u2212' + Math.abs(v) : String(v));

const panels: PanelSpec[] = [
  {
    top: 0, height: 440, plotTop: 5.7, plotBottom: 330.7, yDomain: [-0.0855, 2.3525], yTicks: alignedTicks, yFmt: one,
    yTitle: 'Aligned', time: alignedTime, forecast: alignedForecast, truth: alignedTrue, curve: 'monotone',
    legend: { left: 118.7, top: 5.7, width: 260.4, height: 59.3, x1: 26, x2: 78.4, tx: 104.4, y1: 18.8, y2: 40.8 },
  },
  {
    top: 570, height: 440, plotTop: 10, plotBottom: 334.3, yDomain: [-3.285, 2.803], yTicks: warpTicks, yFmt: minus,
    yTitle: 'Warping', time: warpTime, forecast: warpForecast, truth: warpTrue, curve: 'linear',
    legend: { left: 379.3, top: 275, width: 260, height: 59.3, x1: 25.7, x2: 78, tx: 104, y1: 19, y2: 41 },
  },
  {
    top: 1145, height: 441, plotTop: 9.7, plotBottom: 332, yDomain: [-1.2, 31.2], yTicks: cumTicks, yFmt: minus,
    yTitle: 'Warping', time: cumTime, forecast: cumForecast, truth: cumTrue, curve: 'monotone',
    legend: { left: 432.3, top: 273.3, width: 210, height: 58.7, x1: 20.4, x2: 62, tx: 82, y1: 18.4, y2: 40.4 },
  },
];

export default function App() {
  return (
    <div style={{ position: 'absolute', left: 0, top: 0, width: 630, height: 1586, overflow: 'hidden', background: '#fff', fontFamily: FONT }}>
      {panels.map((s, i) => <Panel key={i} s={s} />)}
    </div>
  );
}
